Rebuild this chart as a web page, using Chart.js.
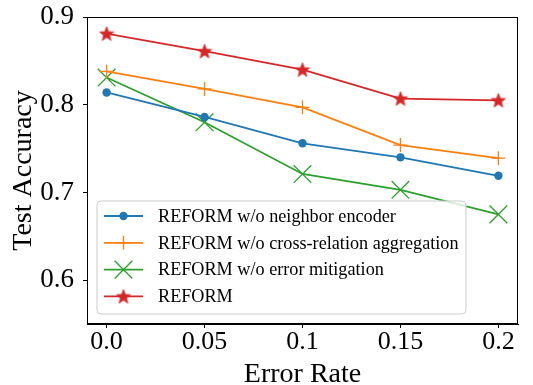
<!DOCTYPE html>
<html>
<head>
<meta charset="utf-8">
<script src="https://cdn.jsdelivr.net/npm/chart.js@4.4.0/dist/chart.umd.min.js"></script>
<style>
  html, body { margin: 0; padding: 0; background: #fff; }
  #wrap { width: 533px; height: 385px; }
</style>
</head>
<body>
<div id="wrap"><canvas id="myChart" width="533" height="385"></canvas></div>
<script>
// data
const errorRates = [0.0, 0.05, 0.1, 0.15, 0.2];
const xTickLabels = ['0.0', '0.05', '0.1', '0.15', '0.2'];
const yTicks = [0.6, 0.7, 0.8, 0.9];
const noNeighbor = [0.814, 0.786, 0.756, 0.740, 0.719];
const noCrossRel = [0.838, 0.818, 0.797, 0.754, 0.739];
const noErrMitig = [0.831, 0.780, 0.721, 0.703, 0.675];
const reform = [0.881, 0.861, 0.840, 0.807, 0.805];
const seriesNames = [
  'REFORM w/o neighbor encoder',
  'REFORM w/o cross-relation aggregation',
  'REFORM w/o error mitigation',
  'REFORM'
];

const FONT = "'Liberation Serif', 'Times New Roman', serif";
const BLUE = '#1f77b4', ORANGE = '#ff7f0e', GREEN = '#2ca02c', RED = '#d62728';

// filled star marker
function makeStar(size, color) {
  let c = document.createElement('canvas');
  c.width = size; c.height = size;
  let g = c.getContext('2d');
  let cx = size / 2, cy = size / 2 + 0.6;
  let R = size / 2 - 0.5, r = R * 0.42;
  g.beginPath();
  for (let i = 0; i < 10; i++) {
    let a = -Math.PI / 2 + i * Math.PI / 5;
    let rr = i % 2 === 0 ? R : r;
    g.lineTo(cx + rr * Math.cos(a), cy + rr * Math.sin(a));
  }
  g.closePath();
  g.fillStyle = color;
  g.fill();
  g.strokeStyle = color;
  g.lineWidth = 0.8;
  g.stroke();
  return c;
}
const starImg = makeStar(16, RED);

function toPoints(vals) {
  return vals.map((v, i) => ({ x: errorRates[i], y: v }));
}

const datasets = [
  { label: seriesNames[0], data: toPoints(noNeighbor), borderColor: BLUE, backgroundColor: BLUE,
    pointStyle: 'circle', pointRadius: 4.2, pointBorderWidth: 0 },
  { label: seriesNames[1], data: toPoints(noCrossRel), borderColor: ORANGE, backgroundColor: ORANGE,
    pointStyle: 'cross', pointRadius: 7, pointBorderWidth: 1.3 },
  { label: seriesNames[2], data: toPoints(noErrMitig), borderColor: GREEN, backgroundColor: GREEN,
    pointStyle: 'crossRot', pointRadius: 12.5, pointBorderWidth: 1.3 },
  { label: seriesNames[3], data: toPoints(reform), borderColor: RED, backgroundColor: RED,
    pointStyle: starImg, pointRadius: 8 }
];
datasets.forEach(d => { d.borderWidth = 1.8; d.tension = 0; d.fill = false; });

function drawMarker(ctx, ds, x, y) {
  ctx.save();
  ctx.strokeStyle = ds.borderColor;
  ctx.fillStyle = ds.backgroundColor;
  ctx.lineWidth = ds.pointBorderWidth || 1;
  let r = ds.pointRadius;
  if (ds.pointStyle === 'circle') {
    ctx.beginPath(); ctx.arc(x, y, r, 0, Math.PI * 2); ctx.fill();
  } else if (ds.pointStyle === 'cross') {
    ctx.beginPath();
    ctx.moveTo(x - r, y); ctx.lineTo(x + r, y);
    ctx.moveTo(x, y - r); ctx.lineTo(x, y + r);
    ctx.stroke();
  } else if (ds.pointStyle === 'crossRot') {
    let o = r * Math.SQRT1_2;
    ctx.beginPath();
    ctx.moveTo(x - o, y - o); ctx.lineTo(x + o, y + o);
    ctx.moveTo(x + o, y - o); ctx.lineTo(x - o, y + o);
    ctx.stroke();
  } else {
    let img = ds.pointStyle;
    ctx.drawImage(img, x - img.width / 2, y - img.height / 2);
  }
  ctx.restore();
}

const framePlugin = {
  id: 'frame',
  afterDatasetsDraw(chart) {
    const ctx = chart.ctx;
    const a = chart.chartArea;
    // legend box, lower left inside the plot
    const bx = a.left + 10, bw = 369, bh = 113;
    const by = a.bottom - 10 - bh;
    ctx.save();
    ctx.beginPath();
    ctx.roundRect(bx, by, bw, bh, 4);
    ctx.fillStyle = 'rgba(255,255,255,0.8)';
    ctx.fill();
    ctx.strokeStyle = '#cccccc';
    ctx.lineWidth = 1;
    ctx.stroke();
    ctx.font = '18.2px ' + FONT;
    ctx.textBaseline = 'middle';
    chart.data.datasets.forEach((ds, i) => {
      const y = by + 15 + i * 26.8;
      ctx.beginPath();
      ctx.strokeStyle = ds.borderColor;
      ctx.lineWidth = 1.8;
      ctx.moveTo(bx + 7, y); ctx.lineTo(bx + 46, y);
      ctx.stroke();
      drawMarker(ctx, ds, bx + 26.5, y);
      ctx.fillStyle = '#000';
      ctx.fillText(ds.label, bx + 61, y + 1);
    });
    // axes frame
    ctx.strokeStyle = '#000';
    ctx.lineWidth = 1;
    ctx.strokeRect(a.left + 0.5, a.top + 0.5, a.right - a.left - 1, a.bottom - a.top - 1);
    ctx.restore();
  }
};

new Chart(document.getElementById('myChart').getContext('2d'), {
  type: 'line',
  data: { datasets: datasets },
  options: {
    responsive: false,
    animation: false,
    layout: { padding: { left: 0, right: 15, top: 17, bottom: 0 } },
    plugins: { legend: { display: false }, tooltip: { enabled: false } },
    scales: {
      x: {
        type: 'linear',
        min: -0.01, max: 0.21,
        afterBuildTicks: s => { s.ticks = errorRates.map(v => ({ value: v })); },
        afterFit: s => { s.height = 61; s.paddingLeft = 0; s.paddingRight = 0; },
        ticks: {
          color: '#000', font: { family: FONT, size: 26, lineHeight: 1.0 }, padding: 1, maxRotation: 0,
          callback: (v) => { const i = errorRates.indexOf(v); return i >= 0 ? xTickLabels[i] : ''; }
        },
        grid: { drawOnChartArea: false, tickLength: 4, color: '#000' },
        border: { color: '#000' },
        title: { display: true, text: 'Error Rate', color: '#000', font: { family: FONT, size: 28, lineHeight: 1.0 }, padding: { top: 0, bottom: -4 } }
      },
      y: {
        min: 0.55, max: 0.9,
        afterBuildTicks: s => { s.ticks = yTicks.map(v => ({ value: v })); },
        afterFit: s => { s.width = 87; s.paddingTop = 0; s.paddingBottom = 0; },
        ticks: {
          color: '#000', font: { family: FONT, size: 27 }, padding: 9,
          callback: v => v.toFixed(1)
        },
        grid: { drawOnChartArea: false, tickLength: 4, color: '#000' },
        border: { color: '#000' },
        title: { display: true, text: 'Test Accuracy', color: '#000', font: { family: FONT, size: 28, lineHeight: 1.0 }, padding: { top: 10, bottom: 0 } }
      }
    }
  },
  plugins: [framePlugin]
});
</script>
</body>
</html>
